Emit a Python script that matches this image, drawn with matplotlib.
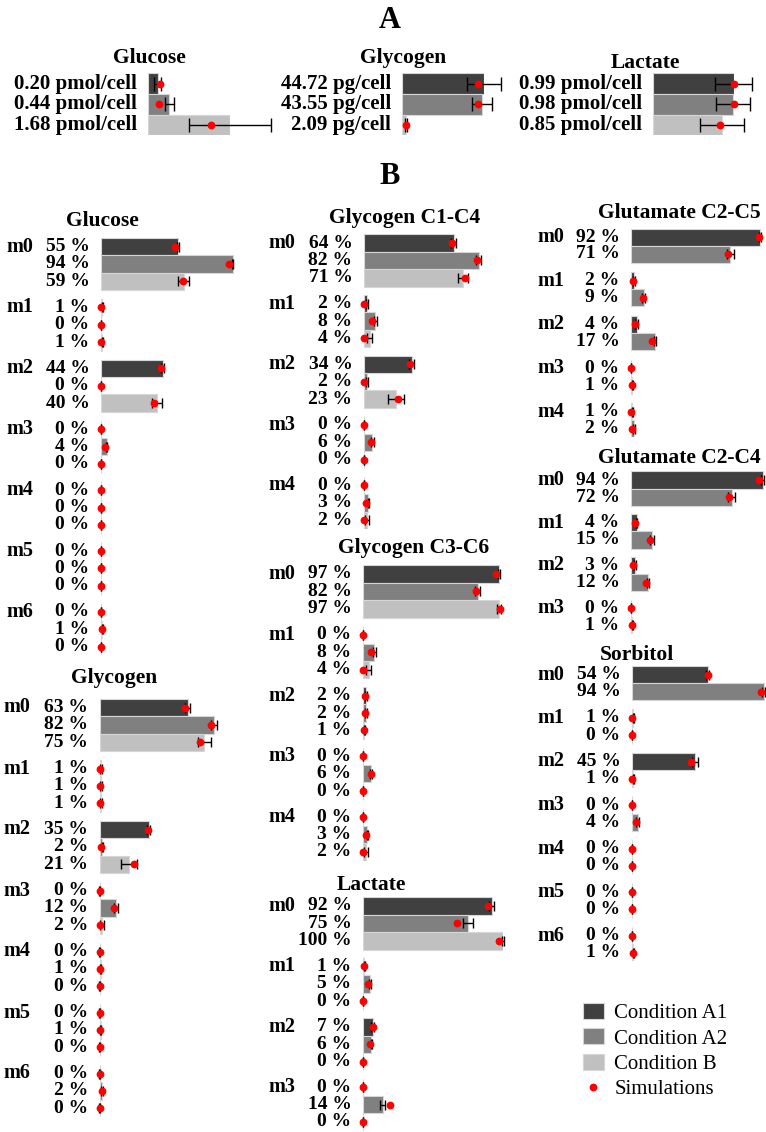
import matplotlib
matplotlib.use("Agg")
import matplotlib.pyplot as plt
from matplotlib.patches import Patch
from matplotlib.lines import Line2D

plt.rcParams["font.family"] = ["Liberation Serif", "DejaVu Serif"]

W, H = 766, 1132

conditions = ["Condition A1", "Condition A2", "Condition B"]
bar_colors = ["#404040", "#808080", "#c0c0c0"]

# panel A: absolute amounts
a_glucose = [0.20, 0.44, 1.68]
a_glucose_err = [0.075, 0.10, 0.85]
a_glucose_sim = [0.25, 0.23, 1.30]
a_glycogen = [44.72, 43.55, 2.09]
a_glycogen_err = [9.3, 5.6, 0.5]
a_glycogen_sim = [41.3, 41.3, 2.1]
a_lactate = [0.99, 0.98, 0.85]
a_lactate_err = [0.23, 0.21, 0.27]
a_lactate_sim = [0.99, 1.00, 0.83]

# panel B: isotopologue fractions (%)
glucose_vals = [[55, 94, 59], [1, 0, 1], [44, 0, 40], [0, 4, 0], [0, 0, 0], [0, 0, 0], [0, 1, 0]]
glucose_err = [[0.5, 0.5, 3.7], [0.3, 0.3, 0.5], [1.0, 0.3, 3.5], [0.3, 0.5, 0.3], [0.3, 0.3, 0.3], [0.3, 0.3, 0.3], [0.3, 0.5, 0.3]]
glucose_sim = [[53.1, 91.7, 58.8], [0, 0, 0], [42.9, 0, 37.9], [0, 2.6, 0], [0, 0, 0], [0, 0, 0], [0, 0.8, 0]]

glycogen_vals = [[63, 82, 75], [1, 1, 1], [35, 2, 21], [0, 12, 2], [0, 1, 0], [0, 1, 0], [0, 2, 0]]
glycogen_err = [[1.8, 2.0, 4.4], [0.5, 0.5, 1.0], [1.4, 0.5, 5.6], [0.3, 1.4, 1.5], [0.3, 0.3, 0.3], [0.3, 0.3, 0.3], [0.3, 0.8, 0.3]]
glycogen_sim = [[61.2, 79.5, 71.9], [0.5, 0.5, 0], [34.5, 1.0, 24.8], [0, 10.5, 0], [0, 0.5, 0], [0, 0.5, 0], [0, 1.7, 0]]

gly14_vals = [[64, 82, 71], [2, 8, 4], [34, 2, 23], [0, 6, 0], [0, 3, 2]]
gly14_err = [[2.0, 1.9, 3.6], [0.5, 1.2, 1.8], [1.8, 0.5, 5.6], [0.3, 0.8, 0.3], [0.3, 0.5, 1.4]]
gly14_sim = [[62.9, 80.7, 72.1], [0, 6.0, 0], [32.9, 0.3, 24.0], [0, 5.0, 0], [0, 1.4, 0]]

gly36_vals = [[97, 82, 97], [0, 8, 4], [2, 2, 1], [0, 6, 0], [0, 3, 2]]
gly36_err = [[0.5, 1.8, 1.4], [0.3, 1.2, 1.7], [0.5, 0.5, 0.5], [0.3, 0.7, 0.3], [0.3, 0.5, 1.4]]
gly36_sim = [[95.2, 80.7, 98.0], [0, 5.5, 0], [1.7, 1.7, 0.5], [0, 5.5, 0], [0, 1.9, 0]]

lactate_vals = [[92, 75, 100], [1, 5, 0], [7, 6, 0], [0, 14, 0]]
lactate_err = [[1.7, 3.3, 0.5], [0.5, 0.5, 0.3], [1.0, 0.5, 0.3], [0.3, 2.0, 0.3]]
lactate_sim = [[89.0, 67.1, 97.1], [1.0, 3.3, 0], [7.1, 5.0, 0], [0, 19.0, 0]]

glu25_vals = [[92, 71], [2, 9], [4, 17], [0, 1], [1, 2]]
glu25_err = [[0.8, 2.6], [0.5, 0.8], [0.8, 0.8], [0.3, 0.5], [0.5, 0.5]]
glu25_sim = [[91.4, 69.5], [1.7, 8.3], [3.1, 15.2], [0, 0.8], [0, 0.7]]

glu24_vals = [[94, 72], [4, 15], [3, 12], [0, 1]]
glu24_err = [[0.8, 2.6], [0.5, 1.7], [0.6, 0.5], [0.3, 0.5]]
glu24_sim = [[91.4, 69.8], [2.6, 13.6], [1.2, 10.5], [0, 0.7]]

sorbitol_vals = [[54, 94], [1, 0], [45, 1], [0, 4], [0, 0], [0, 0], [0, 1]]
sorbitol_err = [[0.8, 0.8], [0.3, 0.3], [1.8, 0.3], [0.3, 0.8], [0.3, 0.3], [0.3, 0.3], [0.3, 0.5]]
sorbitol_sim = [[54.0, 92.1], [0, 0], [42.1, 0.3], [0, 2.6], [0, 0], [0, 0], [0, 0.7]]

PX = 0.72  # points per pixel at dpi 100
DOT = 4.6

fig = plt.figure(figsize=(W / 100, H / 100), dpi=100)


def fig_text(x, y, s, **kw):
    fig.text(x / W, 1 - y / H, s, ha="center", va="center", **kw)


def draw_rows(ax, ys, vals, errs, sims, capsize):
    n = len(vals)
    ax.barh(ys, vals, height=ys[1] - ys[0], color=bar_colors[:n],
            edgecolor="#d6d6d6", linewidth=0.8, zorder=1)
    ax.errorbar(vals, ys, xerr=errs, fmt="none", ecolor="black",
                elinewidth=1.0, capsize=capsize, capthick=1.0, zorder=2, clip_on=False)
    ax.plot(sims, ys, "o", color="red", ms=DOT, mec="red", zorder=3, clip_on=False)


def panel_a(title, title_xy, vals, errs, sims, unit, bar_left, first_row, width_px,
            row_pitch=20.7):
    n = len(vals)
    top = first_row - row_pitch / 2
    bottom = first_row + (n - 1) * row_pitch + row_pitch / 2
    ax = fig.add_axes([bar_left / W, 1 - bottom / H, width_px / W, (bottom - top) / H])
    ax.set_xlim(0, max(vals))
    ys = [i * row_pitch for i in range(n)]
    ax.set_ylim(ys[-1] + row_pitch / 2, -row_pitch / 2)
    ax.axis("off")
    draw_rows(ax, ys, vals, errs, sims, capsize=5)
    for y, v in zip(ys, vals):
        ax.annotate(f"{v:.2f} {unit}", (0, y), xycoords=ax.get_yaxis_transform(),
                    xytext=(-11 * PX, 0), textcoords="offset points",
                    ha="right", va="center", fontsize=15, fontweight="bold")
    fig_text(*title_xy, title, fontsize=15.5, fontweight="bold")


def panel_b(title, title_xy, vals, errs, sims, bar_left, first_row, m_left,
            group_pitch, row_pitch=17.4):
    n_groups = len(vals)
    n = len(vals[0])
    span = (n_groups - 1) * group_pitch + (n - 1) * row_pitch
    top = first_row - row_pitch / 2
    ax = fig.add_axes([bar_left / W, 1 - (top + span + row_pitch) / H,
                       140 / W, (span + row_pitch) / H])
    ax.set_xlim(0, 100)
    ax.set_ylim(span + row_pitch / 2, -row_pitch / 2)
    ax.axis("off")
    for g in range(n_groups):
        ys = [g * group_pitch + i * row_pitch for i in range(n)]
        draw_rows(ax, ys, vals[g], errs[g], sims[g], capsize=3.5)
        for y, v in zip(ys, vals[g]):
            ax.annotate(f"{v} %", (0, y), xycoords=ax.get_yaxis_transform(),
                        xytext=(-11.5 * PX, 0), textcoords="offset points",
                        ha="right", va="center", fontsize=14, fontweight="bold")
        ax.annotate(f"m{g}", (0, ys[0]), xycoords=ax.get_yaxis_transform(),
                    xytext=((m_left - bar_left) * PX, 0), textcoords="offset points",
                    ha="left", va="center", fontsize=14.5, fontweight="bold")
    fig_text(*title_xy, title, fontsize=15.5, fontweight="bold")


# panel A
fig_text(390, 20, "A", fontsize=22, fontweight="bold")
panel_a("Glucose", (149, 58), a_glucose, a_glucose_err, a_glucose_sim,
        "pmol/cell", 148, 83.5, 82)
panel_a("Glycogen", (403, 58), a_glycogen, a_glycogen_err, a_glycogen_sim,
        "pg/cell", 402, 83.5, 82)
panel_a("Lactate", (645, 63), a_lactate, a_lactate_err, a_lactate_sim,
        "pmol/cell", 653, 83.5, 80.5)

# panel B
fig_text(390, 176, "B", fontsize=22, fontweight="bold")
panel_b("Glucose", (102, 221), glucose_vals, glucose_err, glucose_sim,
        101, 246.5, 6, 60.9)
panel_b("Glycogen", (114, 678), glycogen_vals, glycogen_err, glycogen_sim,
        99.5, 707.5, 3, 61)
panel_b("Glycogen C1-C4", (405, 218), gly14_vals, gly14_err, gly14_sim,
        364, 243, 268, 60.6)
panel_b("Glycogen C3-C6", (414, 548), gly36_vals, gly36_err, gly36_sim,
        363, 574, 268, 60.8)
panel_b("Lactate", (371, 885), lactate_vals, lactate_err, lactate_sim,
        363, 906, 268, 60.4)
panel_b("Glutamate C2-C5", (679, 213), glu25_vals, glu25_err, glu25_sim,
        631, 237, 537, 43.7, row_pitch=17)
panel_b("Glutamate C2-C4", (679, 458), glu24_vals, glu24_err, glu24_sim,
        631, 480, 537, 42.7, row_pitch=17.2)
panel_b("Sorbitol", (637, 655), sorbitol_vals, sorbitol_err, sorbitol_sim,
        632, 674.5, 537, 43.5, row_pitch=17.3)

handles = [Patch(facecolor=c, edgecolor="#d6d6d6", linewidth=0.8) for c in bar_colors]
handles.append(Line2D([], [], ls="none", marker="o", color="red", ms=DOT))
fig.legend(handles, conditions + ["Simulations"], loc="upper left",
           bbox_to_anchor=(583 / W, 1 - 1003 / H), frameon=False,
           fontsize=15, handlelength=1.0, handleheight=0.8,
           handletextpad=0.5, labelspacing=0.25, borderpad=0, borderaxespad=0)

fig.savefig("out.png", dpi=100)
